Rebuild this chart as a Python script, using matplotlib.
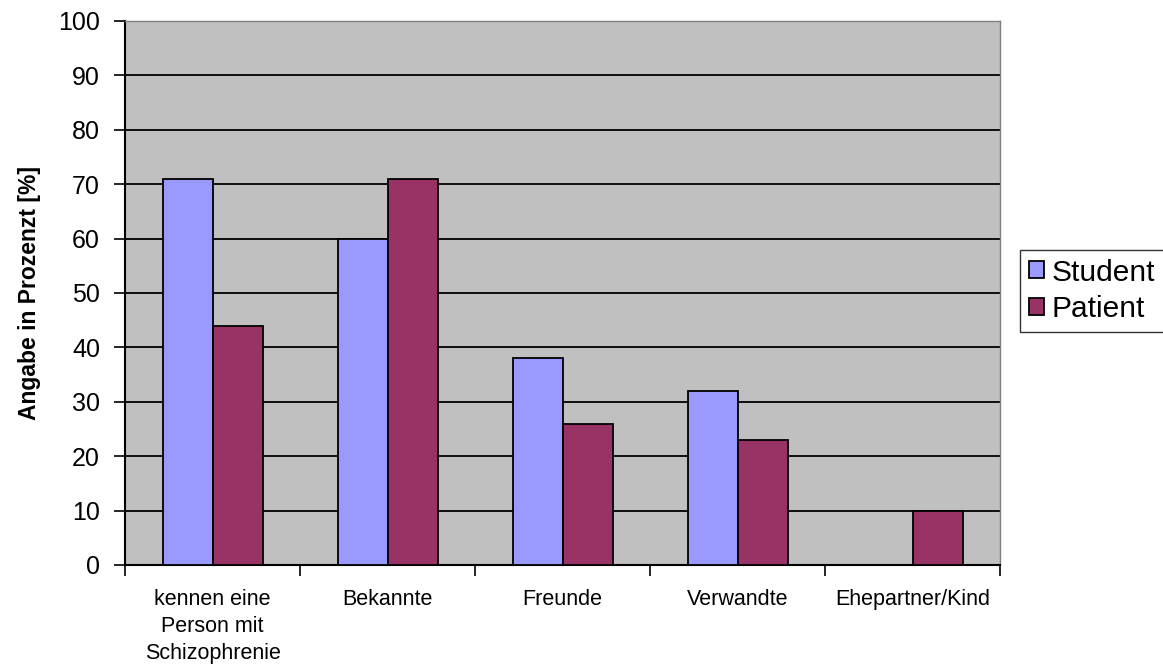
import numpy as np
import matplotlib.pyplot as plt

plt.rcParams['font.family'] = ['Liberation Sans', 'DejaVu Sans']

# Daten
kategorien = ['kennen eine\nPerson mit\nSchizophrenie', 'Bekannte', 'Freunde',
              'Verwandte', 'Ehepartner/Kind']
student = [71, 60, 38, 32, 0]
patient = [44, 71, 26, 23, 10]

fig = plt.figure(figsize=(11.63, 6.68), dpi=100)
ax = fig.add_axes([125 / 1163, 1 - 565 / 668, 875 / 1163, 544 / 668])
ax.set_facecolor('#C0C0C0')

x = np.arange(len(kategorien))
b = 1 / 3.5
ax.bar(x - b / 2, student, b, color='#9999FF', edgecolor='black', linewidth=1.3,
       label='Student', zorder=3)
ax.bar(x + b / 2, patient, b, color='#993366', edgecolor='black', linewidth=1.3,
       label='Patient', zorder=3)

ax.set_xlim(-0.5, len(kategorien) - 0.5)
ax.set_ylim(0, 100)
ax.set_yticks(np.arange(0, 101, 10))
ax.yaxis.grid(True, color='black', linewidth=1.3, zorder=1)
ax.tick_params(axis='y', labelsize=18, length=8, width=1.2, pad=10)

# Teilstriche zwischen den Kategorien, Beschriftung in der Mitte
ax.set_xticks(np.arange(-0.5, len(kategorien), 1))
ax.set_xticklabels([])
ax.set_xticks(x, minor=True)
ax.set_xticklabels(kategorien, minor=True, fontsize=15.5, linespacing=1.4)
ax.tick_params(axis='x', which='major', length=8, width=1.2)
ax.tick_params(axis='x', which='minor', length=0, pad=17)

for s in ['left', 'bottom']:
    ax.spines[s].set_linewidth(1.5)
for s in ['top', 'right']:
    ax.spines[s].set_color('#808080')
    ax.spines[s].set_linewidth(1.0)

ax.set_ylabel('Angabe in Prozenzt [%]', fontsize=16.5, fontweight='bold', labelpad=12)

leg = ax.legend(loc='center left', bbox_to_anchor=(1020 / 1163, 1 - 291 / 668),
                bbox_transform=fig.transFigure, fontsize=21.5, frameon=True,
                fancybox=False, edgecolor='black', handlelength=0.5,
                handleheight=0.5, handletextpad=0.25, labelspacing=0.3,
                borderpad=0.3, borderaxespad=0)
leg.get_frame().set_linewidth(1.0)

fig.savefig('out.png', dpi=100)
